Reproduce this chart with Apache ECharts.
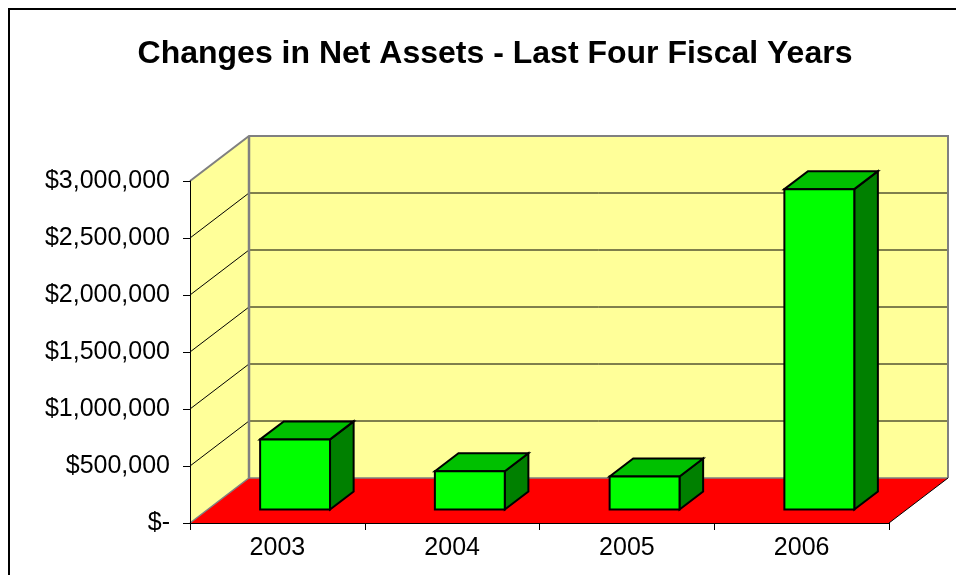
<!DOCTYPE html>
<html>
<head>
<meta charset="utf-8">
<script src="https://cdn.jsdelivr.net/npm/echarts@6/dist/echarts.min.js"></script>
<style>
html,body{margin:0;padding:0;background:#fff;}
#chart{width:956px;height:575px;}
</style>
</head>
<body>
<div id="chart"></div>
<script>
const categories = ['2003', '2004', '2005', '2006'];
const netAssetChanges = [615000, 335000, 290000, 2810000];
const valueTicks = [0, 500000, 1000000, 1500000, 2000000, 2500000, 3000000];
const chartTitle = 'Changes in Net Assets - Last Four Fiscal Years';

// 3D projection constants (pixels of depth offset)
const DX = 59, DY = 45;
const BAR_FRONT = 0.30, BAR_BACK = 0.70, BAR_WIDTH = 0.40;
const FONT = "'Liberation Sans', Arial, sans-serif";

const chart = echarts.init(document.getElementById('chart'), null, {renderer: 'canvas'});

function wallsRender(params, api) {
  const cs = params.coordSys;
  const x0 = cs.x, x1 = cs.x + cs.width;
  const y0 = api.coord([0, valueTicks[0]])[1];
  const yTop = api.coord([0, valueTicks[valueTicks.length - 1]])[1];
  const children = [];
  children.push({type: 'polygon', shape: {points: [[x0 + DX, y0 - DY], [x1 + DX, y0 - DY], [x1 + DX, yTop - DY], [x0 + DX, yTop - DY]]},
    style: {fill: '#FFFF99', stroke: null}});
  children.push({type: 'polygon', shape: {points: [[x0, y0], [x0 + DX, y0 - DY], [x0 + DX, yTop - DY], [x0, yTop]]},
    style: {fill: '#FFFF99', stroke: null}});
  children.push({type: 'polygon', shape: {points: [[x0, y0], [x0 + DX, y0 - DY], [x1 + DX, y0 - DY], [x1, y0]]},
    style: {fill: '#FF0000', stroke: null}});
  valueTicks.forEach(function (v, i) {
    const y = api.coord([0, v])[1];
    if (i === 0 || i === valueTicks.length - 1) return;
    children.push({type: 'line', shape: {x1: x0 + DX, y1: y - DY, x2: x1 + DX, y2: y - DY}, style: {stroke: '#000', lineWidth: 1}});
    children.push({type: 'line', shape: {x1: x0, y1: y, x2: x0 + DX, y2: y - DY}, style: {stroke: '#000', lineWidth: 1}});
  });
  children.push({type: 'polyline', shape: {points: [[x0, yTop], [x0 + DX, yTop - DY], [x1 + DX, yTop - DY], [x1 + DX, y0 - DY]]},
    style: {stroke: '#808080', lineWidth: 2, fill: null}});
  children.push({type: 'line', shape: {x1: x0 + DX, y1: yTop - DY, x2: x0 + DX, y2: y0 - DY}, style: {stroke: '#808080', lineWidth: 2.5}});
  children.push({type: 'polyline', shape: {points: [[x0, y0], [x0 + DX, y0 - DY], [x1 + DX, y0 - DY]]},
    style: {stroke: '#808080', lineWidth: 1.5, fill: null}});
  children.push({type: 'line', shape: {x1: x1, y1: y0, x2: x1 + DX, y2: y0 - DY}, style: {stroke: '#000', lineWidth: 1}});
  return {type: 'group', children: children};
}

function barRender(params, api) {
  const idx = api.value(0);
  const val = api.value(1);
  const base = api.coord([idx, 0]);
  const top = api.coord([idx, val]);
  const band = api.size([1, 0])[0];
  const w = band * BAR_WIDTH;
  const fx = BAR_FRONT * DX, fy = BAR_FRONT * DY;
  const ddx = (BAR_BACK - BAR_FRONT) * DX, ddy = (BAR_BACK - BAR_FRONT) * DY;
  const xa = base[0] - w / 2 + fx, xb = xa + w;
  const yb = base[1] - fy, yt = top[1] - fy;
  const st = {stroke: '#000', lineWidth: 2, lineJoin: 'miter'};
  return {type: 'group', children: [
    {type: 'polygon', shape: {points: [[xb, yt], [xb + ddx, yt - ddy], [xb + ddx, yb - ddy], [xb, yb]]},
      style: Object.assign({fill: '#008000'}, st)},
    {type: 'polygon', shape: {points: [[xa, yt], [xa + ddx, yt - ddy], [xb + ddx, yt - ddy], [xb, yt]]},
      style: Object.assign({fill: '#00C000'}, st)},
    {type: 'polygon', shape: {points: [[xa, yt], [xb, yt], [xb, yb], [xa, yb]]},
      style: Object.assign({fill: '#00FF00'}, st)}
  ]};
}

const option = {
  backgroundColor: '#ffffff',
  animation: false,
  title: {
    text: chartTitle,
    left: 490,
    textAlign: 'center',
    top: 33,
    textStyle: {fontFamily: FONT, fontSize: 32, fontWeight: 'bold', color: '#000'}
  },
  grid: {left: 190, right: 67, top: 181, bottom: 52, containLabel: false},
  xAxis: {
    type: 'category',
    data: categories,
    boundaryGap: true,
    z: 10,
    axisLine: {show: true, lineStyle: {color: '#000', width: 1}},
    axisTick: {show: true, length: 7, lineStyle: {color: '#000'}},
    axisLabel: {fontFamily: FONT, fontSize: 25, color: '#000', margin: 13},
    splitLine: {show: false}
  },
  yAxis: {
    type: 'value',
    min: 0,
    max: 3000000,
    interval: 500000,
    z: 10,
    axisLine: {show: true, lineStyle: {color: '#000', width: 1}},
    axisTick: {show: true, length: 7, lineStyle: {color: '#000'}},
    axisLabel: {
      fontFamily: FONT, fontSize: 25, color: '#000', margin: 20,
      formatter: function (v) { return v === 0 ? '$-' : '$' + v.toLocaleString('en-US'); }
    },
    splitLine: {show: false}
  },
  graphic: [{
    type: 'rect', z: 100, silent: true,
    shape: {x: 9, y: 9, width: 1000, height: 1000},
    style: {fill: null, stroke: '#000', lineWidth: 2}
  }],
  series: [
    {type: 'custom', name: 'walls', z: 1, silent: true, renderItem: wallsRender, data: [[0, 0]], clip: false},
    {type: 'custom', name: 'Net Assets', z: 3, renderItem: barRender, clip: false,
      data: netAssetChanges.map(function (v, i) { return [i, v]; })}
  ]
};
chart.setOption(option);
</script>
</body>
</html>
